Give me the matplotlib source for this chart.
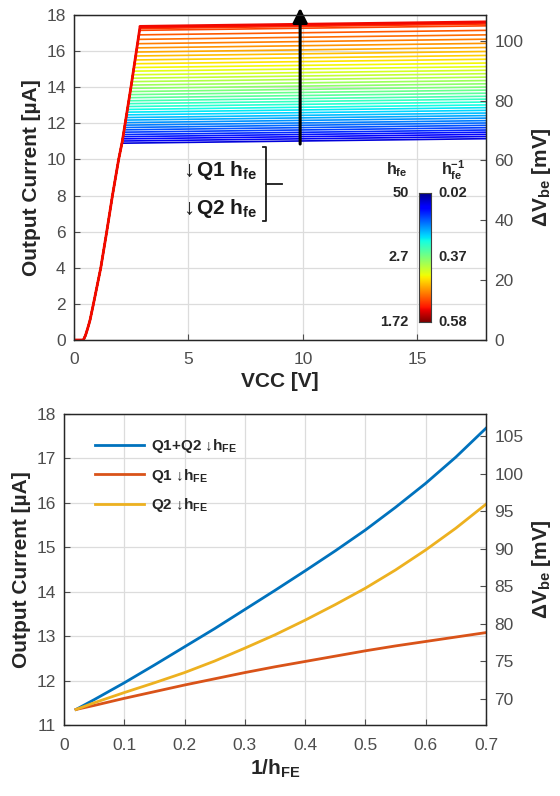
import numpy as np
import matplotlib
matplotlib.use("Agg")
import matplotlib.pyplot as plt

plt.rcParams['font.family'] = ['Liberation Sans', 'DejaVu Sans']
plt.rcParams['mathtext.fontset'] = 'custom'
plt.rcParams['mathtext.rm'] = 'Liberation Sans'
plt.rcParams['mathtext.it'] = 'Liberation Sans'
plt.rcParams['mathtext.bf'] = 'Liberation Sans:bold'

# ---- top panel data: output current vs VCC, one curve per hfe ----
ramp_vcc = [0, 0.41, 0.5, 0.6, 0.7, 0.85, 1.17, 1.43, 1.68, 1.95, 2.11, 2.5, 2.88]
ramp_i = [0, 0, 0.25, 0.65, 1.1, 2.0, 4.0, 6.0, 8.0, 10.0, 11.0, 14.1, 17.3]
vcc_max = 18
# current at VCC = 18 V, lowest (hfe = 50) to highest (hfe = 1.72)
i_end = [11.15, 11.27, 11.39, 11.51, 11.63, 11.76, 11.89, 12.02, 12.15, 12.29,
         12.43, 12.57, 12.72, 12.87, 13.02, 13.18, 13.34, 13.50, 13.67, 13.84,
         14.01, 14.19, 14.37, 14.56, 14.75, 14.94, 15.14, 15.34, 15.55, 15.76,
         15.98, 16.20, 16.43, 16.66, 16.90, 17.15, 17.40, 17.50, 17.56, 17.62]
plateau_rise = 0.25  # current gain from knee to 18 V

cbar_left = ['50', '2.7', '1.72']
cbar_right = ['0.02', '0.37', '0.58']

# ---- bottom panel data: output current vs 1/hFE ----
inv_hfe = [0.02, 0.05, 0.1, 0.15, 0.2, 0.25, 0.3, 0.35, 0.4, 0.45, 0.5, 0.55, 0.6, 0.65, 0.7]
i_both = [11.35, 11.57, 11.95, 12.35, 12.76, 13.17, 13.60, 14.03, 14.47, 14.92, 15.39, 15.90, 16.44, 17.03, 17.68]
i_q1 = [11.35, 11.44, 11.60, 11.75, 11.90, 12.04, 12.18, 12.31, 12.43, 12.55, 12.67, 12.78, 12.88, 12.98, 13.08]
i_q2 = [11.35, 11.50, 11.73, 11.95, 12.18, 12.44, 12.73, 13.03, 13.36, 13.71, 14.08, 14.49, 14.94, 15.43, 15.97]
series_labels = [r'Q1+Q2 ↓h$_\mathbf{FE}$', r'Q1 ↓h$_\mathbf{FE}$', r'Q2 ↓h$_\mathbf{FE}$']
series_colors = ['#0072BD', '#D95319', '#EDB120']

tick_color = '#4d4d4d'
label_color = '#262626'
grid_color = '#dcdcdc'
W, H = 560, 796


def style_axes(ax):
    ax.tick_params(direction='in', colors=tick_color, labelsize=12.5, length=4, width=0.8)
    ax.tick_params(axis='y', pad=6)
    ax.tick_params(axis='x', pad=9)
    ax.grid(True, color=grid_color, linewidth=0.9)
    for s in ax.spines.values():
        s.set_color('#262626')
        s.set_linewidth(0.9)


fig = plt.figure(figsize=(W / 100, H / 100), dpi=100)

# ================= top panel =================
ax1 = fig.add_axes([74 / W, 1 - 340 / H, 412 / W, 325 / H])
cmap = plt.get_cmap('jet')
n = len(i_end)
rv = np.array(ramp_vcc)
ri = np.array(ramp_i)
for k, ie in enumerate(i_end):
    ik = ie - plateau_rise
    vk = np.interp(ik, ri[1:], rv[1:])
    mask = ri < ik
    xs = list(rv[mask]) + [vk, vcc_max]
    ys = list(ri[mask]) + [ik, ie]
    c = cmap(0.08 + 0.82 * k / (n - 1))
    ax1.plot(xs, ys, color=c, lw=2.0 if k == n - 1 else 1.2, solid_capstyle='butt')
ax1.set_xlim(0, 18)
ax1.set_ylim(0, 18)
ax1.set_xticks([0, 5, 10, 15])
ax1.set_yticks(range(0, 19, 2))
style_axes(ax1)
ax1.set_xlabel('VCC [V]', fontsize=15, fontweight='bold', color=label_color, labelpad=3)
ax1.set_ylabel('Output Current [µA]', fontsize=15, fontweight='bold', color=label_color, labelpad=4)

ax1r = ax1.twinx()
ax1r.set_ylim(0, 108.6)
ax1r.set_yticks(range(0, 101, 20))
style_axes(ax1r)
ax1r.grid(False)
ax1r.set_ylabel(r'$\mathbf{\Delta V_{be}}$ $\mathbf{[mV]}$', fontsize=15, color=label_color, labelpad=5)

# big arrow
ax1.annotate('', xy=(9.88, 18.55), xytext=(9.88, 10.7),
             arrowprops=dict(arrowstyle='-|>', color='black', lw=2.2, mutation_scale=22),
             annotation_clip=False)

# Q1 / Q2 labels with bracket
ax1.text(4.75, 9.41, '↓', fontsize=16, ha='left', va='center', color='#1a1a1a')
ax1.text(5.33, 9.41, r'Q1 h$_\mathbf{fe}$', fontsize=15, fontweight='bold', ha='left', va='center', color='#1a1a1a')
ax1.text(4.75, 7.29, '↓', fontsize=16, ha='left', va='center', color='#1a1a1a')
ax1.text(5.33, 7.29, r'Q2 h$_\mathbf{fe}$', fontsize=15, fontweight='bold', ha='left', va='center', color='#1a1a1a')
ax1.plot([8.25, 8.4, 8.4, 8.25], [10.7, 10.7, 6.59, 6.59], color='#1a1a1a', lw=1.3)
ax1.plot([8.4, 9.1], [8.64, 8.64], color='#1a1a1a', lw=1.3)

# colour bar
cax = fig.add_axes([418.6 / W, 1 - 321.7 / H, 12.4 / W, 129 / H])
grad = np.linspace(0, 1, 256).reshape(-1, 1)
cax.imshow(grad, cmap='jet', aspect='auto', origin='upper')
cax.set_xticks([])
cax.set_yticks([])
for s in cax.spines.values():
    s.set_color('#404040')
    s.set_linewidth(0.8)
for lab, yf in zip(cbar_left, [1.0, 0.5, 0.0]):
    cax.text(-0.8, yf, lab, transform=cax.transAxes, ha='right', va='center',
             fontsize=10.5, fontweight='bold', color=label_color)
for lab, yf in zip(cbar_right, [1.0, 0.5, 0.0]):
    cax.text(1.6, yf, lab, transform=cax.transAxes, ha='left', va='center',
             fontsize=10.5, fontweight='bold', color=label_color)
fig.text(397 / W, 1 - 170 / H, r'$\mathbf{h_{fe}}$', ha='center', va='center', fontsize=11.5, color=label_color)
fig.text(453 / W, 1 - 170 / H, r'$\mathbf{h_{fe}^{-1}}$', ha='center', va='center', fontsize=11.5, color=label_color)

# ================= bottom panel =================
ax2 = fig.add_axes([64 / W, 1 - 725 / H, 422 / W, 311 / H])
for ys, lab, c in zip([i_both, i_q1, i_q2], series_labels, series_colors):
    ax2.plot(inv_hfe, ys, color=c, lw=2.0, label=lab)
ax2.set_xlim(0, 0.7)
ax2.set_ylim(11, 18)
ax2.set_xticks(np.arange(0, 0.71, 0.1))
ax2.set_xticklabels(['0', '0.1', '0.2', '0.3', '0.4', '0.5', '0.6', '0.7'])
ax2.set_yticks(range(11, 19))
style_axes(ax2)
ax2.set_xlabel(r'$\mathbf{1/h_{FE}}$', fontsize=15, color=label_color, labelpad=4)
ax2.set_ylabel('Output Current [µA]', fontsize=15, fontweight='bold', color=label_color, labelpad=4)
leg = ax2.legend(loc='upper left', bbox_to_anchor=(0.04, 0.97), frameon=False,
                 prop={'weight': 'bold', 'size': 11}, handlelength=3.2, labelspacing=0.75,
                 handletextpad=0.5)
for t in leg.get_texts():
    t.set_color(label_color)

ax2r = ax2.twinx()
ax2r.set_ylim(66.54, 107.93)
ax2r.set_yticks(range(70, 106, 5))
style_axes(ax2r)
ax2r.grid(False)
ax2r.set_ylabel(r'$\mathbf{\Delta V_{be}}$ $\mathbf{[mV]}$', fontsize=15, color=label_color, labelpad=5)

fig.savefig('out.png', dpi=100)
